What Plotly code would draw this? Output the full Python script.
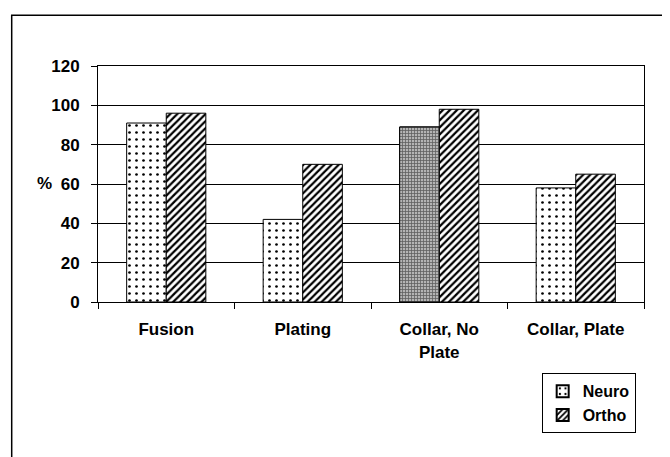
import plotly.graph_objects as go

categories = ["Fusion", "Plating", "Collar, No<br>Plate", "Collar, Plate"]
neuro = [91, 42, 89, 58]
ortho = [96, 70, 98, 65]
y_ticks = [0, 20, 40, 60, 80, 100, 120]
gray_idx = 2  # the Neuro bar printed with a grey screen

FONT = "Liberation Sans, Arial, sans-serif"

fig = go.Figure()
fig.add_trace(go.Bar(
    name="<b>Neuro</b>", x=categories, y=neuro, offsetgroup="n",
    marker=dict(
        color="white",
        line=dict(color="black", width=1),
        pattern=dict(shape=".", fgcolor="black", bgcolor="white",
                     size=7, solidity=0.12, fillmode="replace"),
    ),
))
fig.add_trace(go.Bar(
    name="<b>Ortho</b>", x=categories, y=ortho, offsetgroup="o",
    marker=dict(
        color="white",
        line=dict(color="black", width=1),
        pattern=dict(shape="/", fgcolor="black", bgcolor="white",
                     size=5, solidity=0.45, fillmode="replace"),
    ),
))
fig.add_trace(go.Bar(
    name="grey", x=[categories[gray_idx]], y=[neuro[gray_idx]], offsetgroup="n",
    showlegend=False,
    marker=dict(
        color="#a0a0a0",
        line=dict(color="black", width=1),
        pattern=dict(shape="+", fgcolor="#606060", bgcolor="#b4b4b4",
                     size=3, solidity=0.45, fillmode="replace"),
    ),
))

fig.update_layout(
    width=662, height=449,
    margin=dict(l=90, r=26, t=58, b=155, pad=0),
    paper_bgcolor="white", plot_bgcolor="white",
    barmode="group", bargap=0.42, bargroupgap=0,
    font=dict(family=FONT, color="black", size=17),
    showlegend=True,
    legend=dict(
        x=0.8126, y=-0.302, xanchor="left", yanchor="top",
        bordercolor="black", borderwidth=1, bgcolor="white",
        font=dict(family=FONT, size=16, color="black"),
        itemsizing="constant", tracegroupgap=0, itemwidth=30,
    ),
    xaxis=dict(
        type="category", tickson="boundaries", ticks="outside", ticklen=6,
        tickcolor="black", showline=True, linecolor="black", linewidth=1,
        mirror=True, showgrid=False, ticklabelstandoff=12,
        tickfont=dict(family=FONT, size=17, color="black", weight="bold"),
    ),
    yaxis=dict(
        range=[0, 120], tickvals=y_ticks, ticks="outside", ticklen=6,
        tickcolor="black", showline=True, linecolor="black", linewidth=1,
        mirror=True, showgrid=True, gridcolor="black", gridwidth=1,
        zeroline=False, ticklabelstandoff=8,
        tickfont=dict(family=FONT, size=17, color="black", weight="bold"),
    ),
    annotations=[dict(
        text="<b>%</b>", xref="paper", yref="paper",
        x=(35 - 98.3) / 546, y=(301.7 - 183) / 236,
        showarrow=False, font=dict(family=FONT, size=17, color="black"),
    )],
    shapes=[dict(
        type="rect", xref="paper", yref="paper",
        x0=(12 - 98.3) / 546, x1=(667 - 98.3) / 546,
        y0=(301.7 - 470) / 236, y1=(301.7 - 15) / 236,
        line=dict(color="black", width=1.5), fillcolor="rgba(0,0,0,0)",
        layer="below",
    )],
)

fig.write_html("out.html")
